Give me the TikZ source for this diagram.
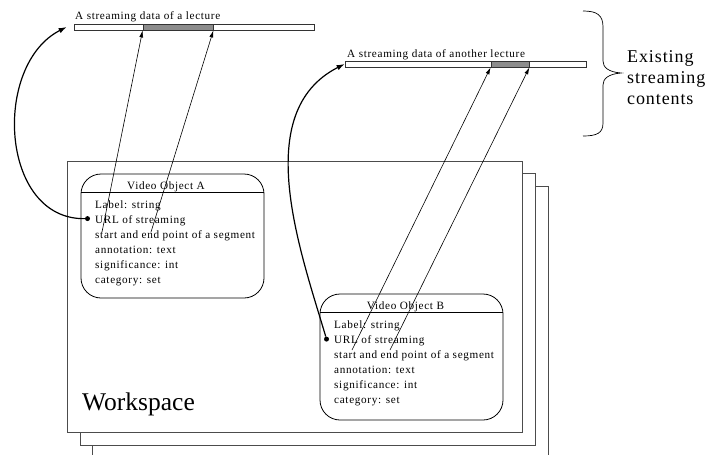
\documentclass[tikz,border=0pt]{standalone}
\usepackage{fontspec}
\setmainfont{Liberation Serif}
\newfontfamily\spacedfont{Liberation Serif}[LetterSpace=6]
\newfontfamily\bigfont{Liberation Serif}[LetterSpace=5]
\usepackage{tikz}
\usetikzlibrary{arrows.meta}

\begin{document}
\begin{tikzpicture}[x=1pt, y=-1pt,
    field/.style={font=\spacedfont\fontsize{11.2}{15}\selectfont, inner sep=0pt},
    bar/.style={draw=black!80, line width=0.8pt, fill=white, minimum height=6pt, inner sep=0pt},
    seg/.style={bar, fill=black!45},
    wsframe/.style={draw=black!70, line width=0.9pt, fill=white},
    objbox/.style={draw, line width=0.8pt, rounded corners=20pt, inner sep=0pt},
    dot/.style={circle, fill, inner sep=0pt, minimum size=5pt},
    link/.style={line width=1.2pt, -{Latex[length=8pt, width=5.5pt]}},
    cut/.style={line width=0.6pt, -{Latex[length=7pt, width=4pt]}}]
  \useasboundingbox (0,0) rectangle (707,455);

  % the two lectures on the server
  \node[field, anchor=base west] (lblA) at (75,19.5) {A streaming data of a lecture};
  \node[bar, minimum width=240pt] (barA) at (194,27) {};
  \node[seg, minimum width=70pt] (segA) at (178,27) {};

  \node[field, anchor=base west] (lblB) at (347,57) {A streaming data of another lecture};
  \node[bar, minimum width=241pt] (barB) at (465.5,64) {};
  \node[seg, minimum width=38pt] (segB) at (510,64) {};

  % brace
  \draw[line width=0.7pt] (583,11) .. controls (597,11) and (603,15) .. (603,27)
    -- (603,61) .. controls (603,67) and (608,72) .. (621,73)
    .. controls (608,74) and (603,79) .. (603,85)
    -- (603,123) .. controls (603,133) and (597,136) .. (583,136);
  \node[anchor=west, align=left, inner sep=0pt,
    font=\bigfont\fontsize{18}{21}\selectfont] (existing) at (627,78)
    {Existing\\streaming\\contents};

  % stacked workspaces
  \foreach \k in {2,1,0}
    \draw[wsframe] (67.7+12.5*\k, 161+12.5*\k) rectangle (522+13*\k, 432+13.5*\k);
  \node[anchor=base west, inner sep=0pt, font=\fontsize{25.5}{30}\selectfont]
    (workspace) at (82,410) {Workspace};

  % video objects
  \node[objbox, minimum width=183pt, minimum height=124pt] (objA) at (172.5,236) {};
  \node[objbox, minimum width=183pt, minimum height=126pt] (objB) at (411.5,357) {};
  \foreach \obj in {A,B}
    \draw[line width=0.8pt] ([yshift=-19pt]obj\obj.north west) -- ([yshift=-19pt]obj\obj.north east);
  \node[field, anchor=base] (titleA) at (166,189.3) {Video Object A};
  \node[field, anchor=base] (titleB) at (405.5,309.3) {Video Object B};

  \foreach \obj/\x/\y in {A/95/208.3, B/334/328.3}
    \foreach \txt [count=\i from 0] in {Label: string, URL of streaming,
        start and end point of a segment, annotation: text,
        significance: int, category: set}
      \node[field, anchor=base west] (field\obj\i) at (\x,\y+15.1*\i) {\txt};

  \node[dot] (dotA) at ([shift={(-7.5pt,4.8pt)}]fieldA1.base west) {};
  \node[dot] (dotB) at ([shift={(-7.5pt,4.3pt)}]fieldB1.base west) {};

  % URL links
  \draw[link] (dotA) .. controls (0,220) and (-8,65) .. ([xshift=-7pt]barA.west);
  \draw[link] (dotB) .. controls (300,250) and (250,112) .. (barB.west);

  % segment links
  \coordinate (inA) at (102,232);
  \coordinate (outA) at (151,232);
  \coordinate (inB) at (352,350);
  \coordinate (outB) at (390,350);
  \draw[cut] (inA) -- (segA.south west);
  \draw[cut] (outA) -- (segA.south east);
  \draw[cut] (inB) -- (segB.south west);
  \draw[cut] (outB) -- (segB.south east);
\end{tikzpicture}
\end{document}
